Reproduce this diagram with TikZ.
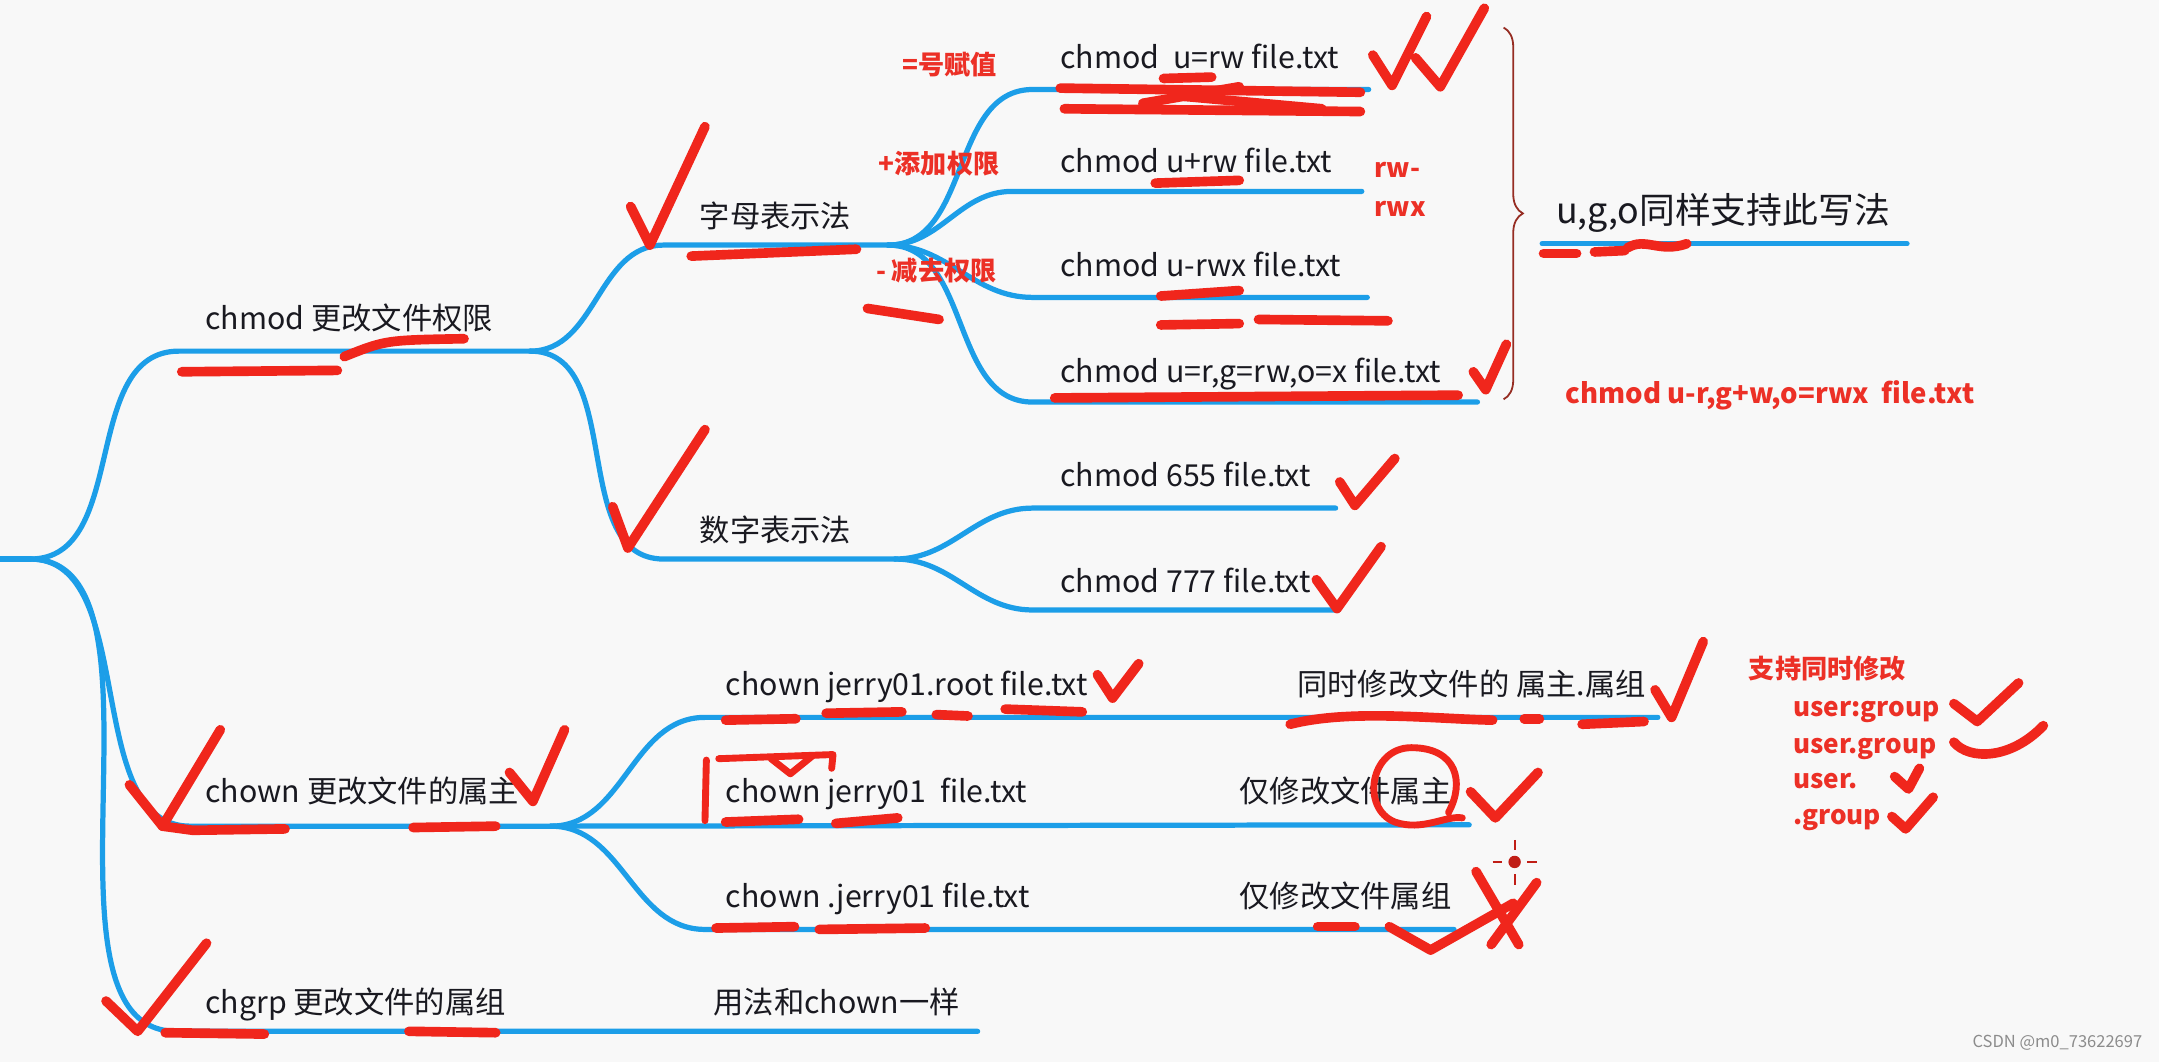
\documentclass[tikz,border=0pt]{standalone}
\usepackage{fontspec}
\setmainfont{Noto Sans CJK SC}
\usetikzlibrary{decorations.pathreplacing}
\definecolor{mmblue}{RGB}{28,158,232}
\definecolor{ink}{RGB}{25,25,32}
\definecolor{labred}{RGB}{236,48,38}
\definecolor{penred}{RGB}{240,38,28}
\definecolor{bracecol}{RGB}{150,45,35}
\definecolor{bgcol}{RGB}{248,248,248}
\definecolor{wm}{RGB}{140,140,140}
\begin{document}
\begin{tikzpicture}[x=1pt,y=-1pt,
  mline/.style={draw=mmblue,line width=3.8pt,line cap=round},
  txt/.style={anchor=west,inner sep=0pt,text=ink,font=\fontsize{22}{25}\selectfont,text height=16pt,text depth=4pt},
  redlab/.style={anchor=west,inner sep=0pt,text=labred,font=\fontsize{19}{22}\selectfont\bfseries,text height=14pt,text depth=4pt},
  pen/.style={draw=penred,line width=7pt,line cap=round,line join=round},
  thinpen/.style={draw=penred,line width=5pt,line cap=round,line join=round},
]
\useasboundingbox (0,0) rectangle (1568,771);
\fill[bgcol] (0,0) rectangle (1568,771);

% ---------- coordinates of branch lines ----------
\coordinate (r0) at (0,406);
\coordinate (r1) at (22,406);
\coordinate (a0) at (130,255);  \coordinate (a1) at (385,255);
\coordinate (b0) at (138,600);  \coordinate (b1) at (400,600);
\coordinate (g0) at (128,749);  \coordinate (g1) at (710,749);
\coordinate (z0) at (482,178);  \coordinate (z1) at (645,178);
\coordinate (s0) at (482,406);  \coordinate (s1) at (650,406);
\coordinate (l10) at (750,65);  \coordinate (l11) at (994,65);
\coordinate (l20) at (735,139); \coordinate (l21) at (989,139);
\coordinate (l30) at (750,216); \coordinate (l31) at (993,216);
\coordinate (l40) at (750,292); \coordinate (l41) at (1073,292);
\coordinate (l50) at (750,369); \coordinate (l51) at (970,369);
\coordinate (l60) at (750,443); \coordinate (l61) at (972,443);
\coordinate (o10) at (512,521); \coordinate (o11) at (1204,521);
\coordinate (o21) at (1067,599);
\coordinate (o30) at (512,675); \coordinate (o31) at (1056,675);
\coordinate (u0) at (1120,177); \coordinate (u1) at (1385,177);

% ---------- blue mind-map lines ----------
\draw[mline] (r0) -- (r1);
\draw[mline] (r1) to[out=0,in=180] (a0) -- (a1);
\draw[mline] (r1) to[out=0,in=180,looseness=0.9] (b0) -- (b1);
\draw[mline] (r1) to[out=0,in=180,looseness=0.8] (g0) -- (g1);
\draw[mline] (a1) to[out=0,in=180] (z0) -- (z1);
\draw[mline] (a1) to[out=0,in=180] (s0) -- (s1);
\draw[mline] (z1) to[out=0,in=180] (l10) -- (l11);
\draw[mline] (z1) to[out=0,in=180] (l20) -- (l21);
\draw[mline] (z1) to[out=0,in=180] (l30) -- (l31);
\draw[mline] (z1) to[out=0,in=180] (l40) -- (l41);
\draw[mline] (s1) to[out=0,in=180] (l50) -- (l51);
\draw[mline] (s1) to[out=0,in=180] (l60) -- (l61);
\draw[mline] (b1) to[out=0,in=180] (o10) -- (o11);
\draw[mline] (b1) -- (o21);
\draw[mline] (b1) to[out=0,in=180] (o30) -- (o31);
\draw[mline] (u0) -- (u1);

% ---------- black texts ----------
\node[txt] (chmodT) at (149,233) {chmod 更改文件权限};
\node[txt] (zimu) at (508,159) {字母表示法};
\node[txt] (shuzi) at (508,387) {数字表示法};
\node[txt] (c1) at (770,44) {chmod\ \ u=rw file.txt};
\node[txt] (c2) at (770,119) {chmod u+rw file.txt};
\node[txt] (c3) at (770,195) {chmod u-rwx file.txt};
\node[txt] (c4) at (770,272) {chmod u=r,g=rw,o=x file.txt};
\node[txt] (c5) at (770,347) {chmod 655 file.txt};
\node[txt] (c6) at (770,424) {chmod 777 file.txt};
\node[txt] (chownT) at (149,577) {chown 更改文件的属主};
\node[txt] (o1) at (527,499) {chown jerry01.root file.txt};
\node[txt] (o2) at (527,577) {chown jerry01\ \ file.txt};
\node[txt] (o3) at (527,653) {chown .jerry01 file.txt};
\node[txt] (d1) at (942,499) {同时修改文件的 属主.属组};
\node[txt] (d2) at (900,577) {仅修改文件属主};
\node[txt] (d3) at (900,653) {仅修改文件属组};
\node[txt] (chgrpT) at (149,730) {chgrp 更改文件的属组};
\node[txt] (same) at (518,730) {用法和chown一样};
\node[txt,font=\fontsize{26}{30}\selectfont] (ugo) at (1130,156) {u,g,o同样支持此写法};

% ---------- red labels ----------
\node[redlab] (e1) at (655,49) {=号赋值};
\node[redlab] (e2) at (638,121) {+添加权限};
\node[redlab] (e3) at (636,199) {-\ 减去权限};
\node[redlab] (e4) at (998,124) {rw-};
\node[redlab] (e5) at (998,152) {rwx};
\node[redlab,font=\fontsize{20}{23}\selectfont\bfseries] (e6) at (1137,288) {chmod u-r,g+w,o=rwx\ \ file.txt};
\node[redlab] (e7) at (1270,488) {支持同时修改};
\node[redlab] (e8) at (1302,515) {user:group};
\node[redlab] (e9) at (1302,542) {user.group};
\node[redlab] (e10) at (1302,568) {user.};
\node[redlab] (e11) at (1302,594) {.group};

% ---------- brace ----------
\draw[bracecol,line width=1.3pt,decorate,decoration={brace,amplitude=14pt}] (1092,20) -- (1092,290);

% ---------- watermark ----------
\node[anchor=east,inner sep=0pt,text=wm,font=\fontsize{12}{14}\selectfont] (wmk) at (1556,757) {CSDN @m0\_73622697};

% ---------- red pen annotations ----------
% chmod underline
\draw[pen] (132,270) -- (245,269);
\draw[pen] (250,259) .. controls (280,247) .. (337,246);
% 字母 check + underline
\draw[pen] (458,150) -- (472,178) -- (512,92);
\draw[pen] (502,186) -- (622,181);
% 数字 check
\draw[pen] (445,368) -- (456,398) -- (512,312);
% 减去 underline
\draw[pen] (630,224) -- (682,232);
% u=rw double check
\draw[pen] (997,40) -- (1011,62) -- (1036,12);
\draw[pen] (1028,42) -- (1046,63) -- (1078,6);
% u=rw scribble
\draw[pen] (770,64) -- (988,67);
\draw[pen] (773,79) -- (988,81);
\draw[pen] (845,57) -- (880,56);
\draw[pen] (830,75) -- (900,63);
\draw[pen] (860,70) -- (960,79);
% u+rw underline
\draw[pen] (839,133) -- (900,131);
% u-rwx underlines
\draw[pen] (843,215) -- (900,211);
\draw[pen] (843,236) -- (900,235);
\draw[pen] (914,232) -- (1008,233);
% u=r,g check + underline
\draw[pen] (1070,270) -- (1079,283) -- (1094,250);
\draw[pen] (766,289) -- (1059,287);
% ugo underline
\draw[pen] (1121,184) -- (1145,184);
\draw[pen] (1158,183) -- (1180,182);
\draw[pen] (1182,180) .. controls (1195,172) and (1205,184) .. (1225,177);
% 655 / 777 checks
\draw[pen] (973,350) -- (984,367) -- (1013,333);
\draw[pen] (956,421) -- (971,442) -- (1003,397);
% chown main check + underlines
\draw[pen] (94,570) -- (118,600) -- (160,530);
\draw[pen] (118,600) -- (140,603) -- (207,602);
\draw[pen] (300,601) -- (360,600);
\draw[pen] (370,561) -- (387,582) -- (410,530);
% jerry01.root underlines + check
\draw[pen] (527,523) -- (578,522);
\draw[pen] (600,518) -- (655,517);
\draw[pen] (680,519) -- (703,520);
\draw[pen] (730,515) -- (786,517);
\draw[pen] (797,490) -- (808,507) -- (827,482);
% bracket mark near chown jerry01
\draw[thinpen] (513,552) -- (512,596);
\draw[thinpen] (522,551) -- (605,548) -- (604,558);
\draw[thinpen] (560,551) -- (574,562) -- (590,549);
\draw[pen] (527,597) -- (580,595);
\draw[pen] (607,598) -- (652,594);
% .jerry01 underlines
\draw[pen] (520,674) -- (577,673);
\draw[pen] (595,675) -- (672,674);
% chgrp check + underlines
\draw[pen] (77,727) -- (100,749) -- (150,685);
\draw[pen] (120,750) -- (192,751);
\draw[pen] (297,749) -- (360,750);
% 同时修改 underline + check
\draw[pen] (937,526) .. controls (980,515) and (1040,522) .. (1084,523);
\draw[pen] (1107,522) -- (1118,522);
\draw[pen] (1149,526) -- (1194,524);
\draw[pen] (1202,501) -- (1214,521) -- (1237,466);
% circle around 件属主 and check
\draw[thinpen] (1052,590) .. controls (1064,568) and (1058,543) .. (1025,543)
  .. controls (995,543) and (988,587) .. (1013,597) .. controls (1033,604) and (1050,592) .. (1062,594);
\draw[pen] (1068,575) -- (1086,594) -- (1117,561);
% X near 仅修改文件属组
\draw[pen] (957,673) -- (984,673);
\draw[pen] (1009,673) -- (1039,690) -- (1099,656);
\draw[pen] (1072,633) -- (1103,686);
\draw[pen] (1116,641) -- (1083,686);
% cursor icon
\fill[penred!80!black] (1100,626) circle (4.5pt);
\draw[penred!80!black,line width=1.5pt] (1100,610) -- (1100,617) (1100,635) -- (1100,643)
  (1084,626) -- (1091,626) (1109,626) -- (1116,626);
% right side checks
\draw[pen] (1419,511) -- (1436,524) -- (1466,496);
\draw[pen] (1419,539) .. controls (1430,552) and (1460,552) .. (1484,527);
\draw[pen] (1376,564) -- (1386,573) -- (1394,558);
\draw[pen] (1374,593) -- (1384,602) -- (1404,579);
\end{tikzpicture}
\end{document}
